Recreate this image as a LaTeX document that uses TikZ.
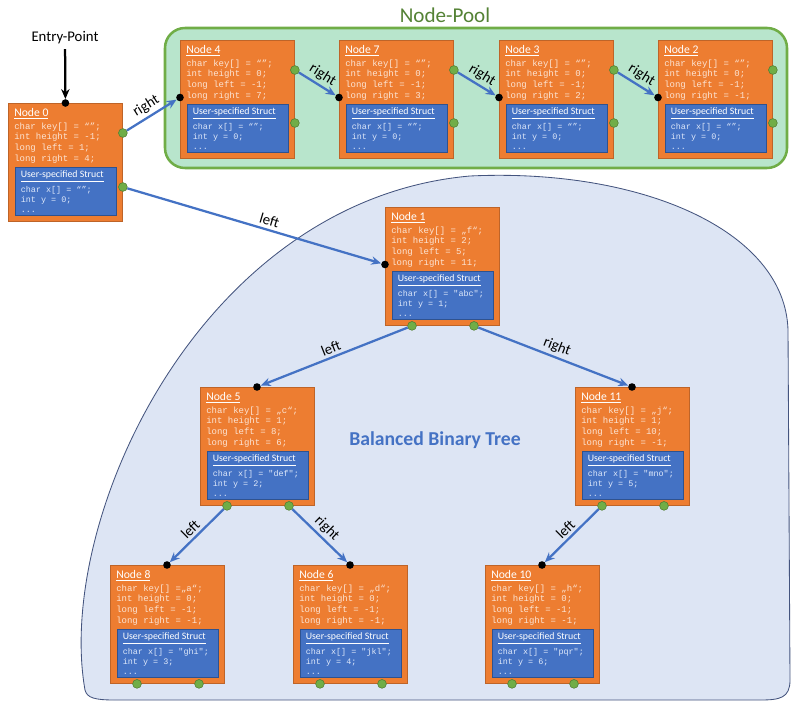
\documentclass[tikz,border=0pt]{standalone}
\usepackage{fontspec}
\setmainfont{Carlito}
\newfontfamily\codefont{Liberation Mono}
\usetikzlibrary{arrows.meta}
\usetikzlibrary{calc}

\definecolor{nodeorange}{RGB}{237,125,49}
\definecolor{nodeedge}{RGB}{190,100,40}
\definecolor{structblue}{RGB}{68,114,196}
\definecolor{structedge}{RGB}{47,82,143}
\definecolor{poolfill}{RGB}{184,229,204}
\definecolor{pooledge}{RGB}{112,173,71}
\definecolor{pooltext}{RGB}{84,130,53}
\definecolor{treefill}{RGB}{221,229,244}
\definecolor{treeedge}{RGB}{68,84,126}
\definecolor{dotgreen}{RGB}{112,173,71}
\definecolor{dotedge}{RGB}{80,126,50}
\definecolor{codeorange}{RGB}{252,228,212}
\definecolor{codeblue}{RGB}{222,232,250}

\newcommand\qq[1]{\textquotedbl#1\textquotedbl}

\tikzset{
	cell/.style={draw=nodeedge, fill=nodeorange, line width=0.6pt, anchor=north west,
		minimum width=2.85cm, minimum height=2.95cm, inner sep=0pt},
	struct/.style={draw=structedge, fill=structblue, line width=0.6pt, anchor=north west,
		minimum width=2.525cm, minimum height=1.2cm, inner sep=0pt},
	celltitle/.style={anchor=west, inner sep=0pt, text=white, font=\fontsize{8.3}{10}\selectfont},
	structtitle/.style={anchor=west, inner sep=0pt, text=white, font=\fontsize{7}{8.4}\selectfont},
	cellcode/.style={anchor=north west, inner sep=0pt, align=left, text=codeorange,
		font=\codefont\fontsize{6.4}{7.6}\selectfont},
	structcode/.style={anchor=north west, inner sep=0pt, align=left, text=codeblue,
		font=\codefont\fontsize{6}{7.2}\selectfont},
	indot/.style={circle, fill=black, inner sep=0pt, minimum size=0.19cm},
	outdot/.style={circle, fill=dotgreen, draw=dotedge, line width=0.4pt, inner sep=0pt, minimum size=0.22cm},
	link/.style={draw=structblue, line width=1.6pt, -{Stealth[length=7pt,width=6pt]}},
	lbl/.style={font=\fontsize{10.5}{12}\selectfont, sloped, above, inner sep=2pt},
}

% one record: name, north west corner, title, key, height, left, right, x, y
\newcommand\cellbox[9]{%
	\node[cell] (#1) at (#2) {};
	\node[celltitle] (#1-t) at ($(#1.north west)+(6,10.5)$) {\underline{#3}};
	\node[cellcode] (#1-c) at ($(#1.north west)+(6,19.5)$)
		{char key[] #4;\\int height = #5;\\long left = #6;\\long right = #7;};
	\node[struct] (#1-s) at ($(#1.north west)+(6.5,64)$) {};
	\node[structtitle] (#1-st) at ($(#1-s.north west)+(6,9.5)$) {\underline{User-specified Struct}};
	\node[structcode] (#1-sc) at ($(#1-s.north west)+(6,19)$)
		{char x[] = #8;\\int y = #9;\\...};
}

\begin{document}
\begin{tikzpicture}[x=0.025cm, y=-0.025cm]
	\useasboundingbox (0,0) rectangle (800,709);

	% tree area
	\draw[fill=treefill, draw=treeedge, line width=0.6pt]
		(85,690) .. controls (55,520) and (200,200) .. (470,176)
		.. controls (640,168) and (785,230) .. (788,330) -- (790,680)
		.. controls (790,698) and (780,700) .. (760,700) -- (115,700)
		.. controls (95,700) and (87,698) .. (85,690) -- cycle;
	\node[text=structblue, font=\bfseries\fontsize{14}{16}\selectfont] (tree) at (435,440) {Balanced Binary Tree};

	% pool
	\draw[fill=poolfill, draw=pooledge, line width=1.8pt, rounded corners=0.5cm] (165,28) rectangle (787,168);
	\node[text=pooltext, font=\fontsize{15}{18}\selectfont] (pool) at (445,15) {Node-Pool};

	\node[font=\fontsize{10.5}{12}\selectfont] (entry) at (65,38) {Entry-Point};

	\cellbox{n0}{8,103}{Node 0}{= “”}{-1}{1}{4}{“”}{0}
	\cellbox{n4}{180,40}{Node 4}{= “”}{0}{-1}{7}{“”}{0}
	\cellbox{n7}{339,40}{Node 7}{= “”}{0}{-1}{3}{“”}{0}
	\cellbox{n3}{499,40}{Node 3}{= “”}{0}{-1}{2}{“”}{0}
	\cellbox{n2}{658,40}{Node 2}{= “”}{0}{-1}{-1}{“”}{0}
	\cellbox{n1}{385,207}{Node 1}{= „f“}{2}{5}{11}{\qq{abc}}{1}
	\cellbox{n5}{200,387}{Node 5}{= „c“}{1}{8}{6}{\qq{def}}{2}
	\cellbox{n11}{575,387}{Node 11}{= „j“}{1}{10}{-1}{\qq{mno}}{5}
	\cellbox{n8}{110,565}{Node 8}{=„a“}{0}{-1}{-1}{\qq{ghi}}{3}
	\cellbox{n6}{293,565}{Node 6}{= „d“}{0}{-1}{-1}{\qq{jkl}}{4}
	\cellbox{n10}{485,565}{Node 10}{= „h“}{0}{-1}{-1}{\qq{pqr}}{6}

	% connection points
	\node[indot] (n0-in) at (n0.north) {};
	\node[outdot] (n0-a) at ($(n0.north east)+(0,30)$) {};
	\node[outdot] (n0-b) at ($(n0.north east)+(0,84)$) {};
	\foreach \n in {n4,n7,n3,n2,n1} {
		\node[indot] (\n-in) at ($(\n.north west)+(0,57.5)$) {};
	}
	\foreach \n in {n4,n7,n3,n2} {
		\node[outdot] (\n-a) at ($(\n.north east)+(0,30)$) {};
		\node[outdot] (\n-b) at ($(\n.north east)+(0,83)$) {};
	}
	\foreach \n in {n5,n11,n8,n6,n10} {
		\node[indot] (\n-in) at ($(\n.north west)+(57,0)$) {};
	}
	\foreach \n in {n1,n5,n11,n8,n6,n10} {
		\node[outdot] (\n-a) at ($(\n.south west)+(27,0)$) {};
		\node[outdot] (\n-b) at ($(\n.south west)+(89,0)$) {};
	}

	\draw[line width=1.6pt, -{Stealth[length=7pt,width=6pt]}] (entry) -- (n0-in);

	\draw[link] (n0-a) to node[lbl] {right} (n4-in);
	\draw[link] (n4-a) to node[lbl] {right} (n7-in);
	\draw[link] (n7-a) to node[lbl] {right} (n3-in);
	\draw[link] (n3-a) to node[lbl] {right} (n2-in);
	\draw[link] (n0-b) to node[lbl, pos=0.55] {left} (n1-in);
	\draw[link] (n1-a) to node[lbl] {left} (n5-in);
	\draw[link] (n1-b) to node[lbl] {right} (n11-in);
	\draw[link] (n5-a) to node[lbl] {left} (n8-in);
	\draw[link] (n5-b) to node[lbl] {right} (n6-in);
	\draw[link] (n11-a) to node[lbl] {left} (n10-in);
\end{tikzpicture}
\end{document}
